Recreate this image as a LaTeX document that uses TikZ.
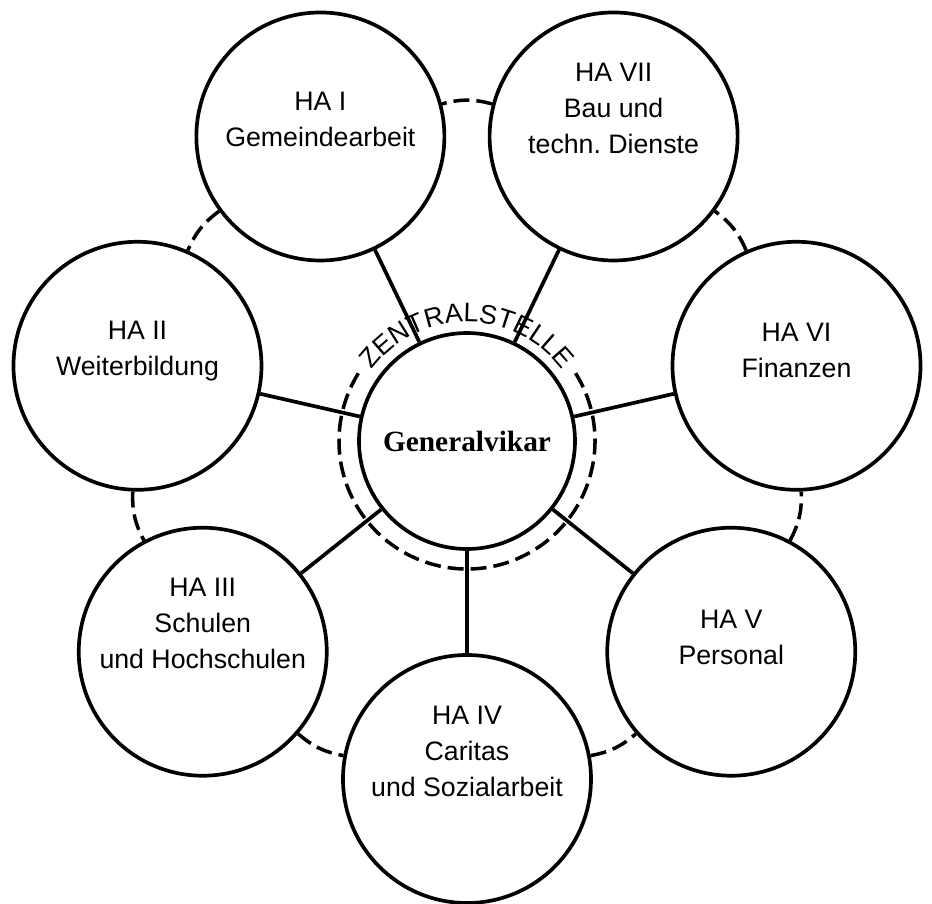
\documentclass[tikz,border=0pt]{standalone}
\usepackage{fontspec}
\setmainfont{Liberation Sans}
\newfontfamily\gvfont{Liberation Serif}
\usepackage{tikz}
\usetikzlibrary{decorations.text}
\newcommand{\hafont}{\fontsize{15.2}{20.5}\selectfont}

\begin{document}
\begin{tikzpicture}[ha/.style={circle, draw, line width=2.1pt, minimum size=4.96cm, inner sep=0pt},
                    hatext/.style={align=center, font=\hafont},
                    hub/.style={circle, draw, line width=2.1pt, minimum size=4.32cm, inner sep=0pt,
                                font=\gvfont\bfseries\fontsize{16.7}{20}\selectfont},
                    spoke/.style={line width=2.1pt},
                    ring/.style={line width=2pt, dash pattern=on 3.2mm off 1.4mm}]
            \useasboundingbox (-9.34, -9.24) rectangle (9.30, 8.82);

            \node[hub] (hub) at (0, 0) {Generalvikar};

            \node[ha, label={[hatext, yshift=3.4mm, name=t1]center:{HA I\\Gemeindearbeit}}] (ha1) at (115.71:6.76) {};
            \node[ha, label={[hatext, yshift=3mm, name=t2]center:{HA II\\Weiterbildung}}] (ha2) at (167.14:6.76) {};
            \node[ha, label={[hatext, yshift=5.6mm, name=t3]center:{HA III\\Schulen\\und Hochschulen}}] (ha3) at (218.57:6.76) {};
            \node[ha, label={[hatext, yshift=5.6mm, name=t4]center:{HA IV\\Caritas\\und Sozialarbeit}}] (ha4) at (270:6.76) {};
            \node[ha, label={[hatext, yshift=2.8mm, name=t5]center:{HA V\\Personal}}] (ha5) at (321.43:6.76) {};
            \node[ha, label={[hatext, yshift=3mm, name=t6]center:{HA VI\\Finanzen}}] (ha6) at (12.86:6.76) {};
            \node[ha, label={[hatext, yshift=5.6mm, name=t7]center:{HA VII\\Bau und\\techn.\ Dienste}}] (ha7) at (64.29:6.76) {};

            % ring around the hub, open at the top for the text
            \draw[ring] (32:2.56) arc[start angle=32, end angle=-212, radius=2.56];
            \path[decorate, decoration={text along path, text align=center,
                  text={|\hafont|ZENTRALSTELLE}}]
                  (150:2.38) arc[start angle=150, end angle=30, radius=2.38];

            \draw[spoke] (hub) -- (ha1);
            \draw[spoke] (hub) -- (ha2);
            \draw[spoke] (hub) -- (ha3);
            \draw[spoke] (hub) -- (ha4);
            \draw[spoke] (hub) -- (ha5);
            \draw[spoke] (hub) -- (ha6);
            \draw[spoke] (hub) -- (ha7);

            \draw[ring] (ha4) to[bend right=15] (ha5);
            \draw[ring] (ha5) to[bend right=15] (ha6);
            \draw[ring] (ha6) to[bend right=15] (ha7);
            \draw[ring] (ha7) to[bend right=15] (ha1);
            \draw[ring] (ha1) to[bend right=15] (ha2);
            \draw[ring] (ha2) to[bend right=15] (ha3);
            \draw[ring] (ha3) to[bend right=15] (ha4);
        \end{tikzpicture}
\end{document}
